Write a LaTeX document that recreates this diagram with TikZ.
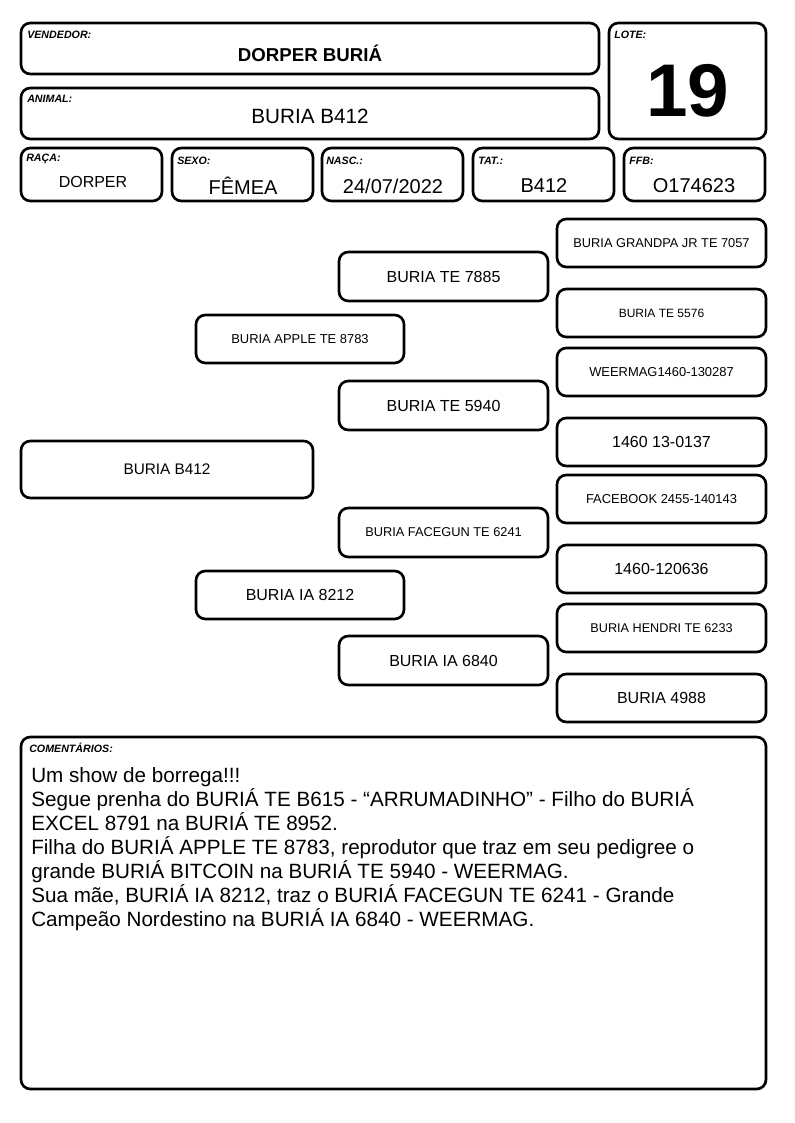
\documentclass[tikz,border=0pt]{standalone}
\usepackage{fontspec}
\setmainfont{Liberation Sans}
\newcommand{\fsz}[1]{\fontsize{#1}{#1}\selectfont}
\tikzset{
  box/.style={draw, line width=2pt, rounded corners=7pt},
  lbl/.style={anchor=west, inner sep=0pt, font=\fsz{8}\bfseries\itshape},
}

\begin{document}
\begin{tikzpicture}[x=0.75pt, y=-0.75pt]
    \useasboundingbox (0,0) rectangle (794,1123);

%vendedor
    \draw[box] (21,23) rectangle (599,74);
    \node[lbl] (vendlbl) at (27,35) {VENDEDOR:};
    \node[font=\fsz{14}\bfseries] (vend) at (310,53) {DORPER BURIÁ};
%animal
    \draw[box] (21,88) rectangle (599,139);
    \node[lbl] (animlbl) at (27,99) {ANIMAL:};
    \node[font=\fsz{15.5}] (anim) at (310,116) {BURIA B412};
%lote
    \draw[box] (609,23) rectangle (766,139);
    \node[lbl] (lotelbl) at (614,35) {LOTE:};
    \node[font=\fsz{56}\bfseries] (lote) at (688,91) {19};

%dados
    \draw[box] (21,148) rectangle (162,201);
    \foreach \x in {172,322,473,624} {
        \draw[box] (\x,148) rectangle (\x+141,201);
    }
    \node[lbl] (racalbl) at (26,159) {RAÇA:};
    \node[font=\fsz{12}] (raca) at (93,182) {DORPER};
    \node[lbl] (sexolbl) at (177,161) {SEXO:};
    \node[font=\fsz{15}] (sexo) at (243,186) {FÊMEA};
    \node[lbl] (nasclbl) at (326,161) {NASC.:};
    \node[font=\fsz{15}] (nasc) at (393,186) {24/07/2022};
    \node[lbl] (tatlbl) at (478,161) {TAT.:};
    \node[font=\fsz{15}] (tat) at (544,186) {B412};
    \node[lbl] (ffblbl) at (629,161) {FFB:};
    \node[font=\fsz{15}] (ffb) at (694,186) {O174623};

%animal
    \draw[box] (21,441) rectangle (313,498);
    \node[font=\fsz{11.5}] (pai0) at (167,469.5) {BURIA B412};
%pais
    \foreach \y/\t/\s [count=\i] in {315/BURIA APPLE TE 8783/9.7, 571/BURIA IA 8212/12} {
        \draw[box] (196,\y) rectangle (404,\y+48);
        \node[font=\fsz{\s}] (pai\i) at (300,\y+24) {\t};
    }
%avos
    \foreach \y/\t/\s [count=\i] in {252/BURIA TE 7885/12, 381/BURIA TE 5940/12,
        508/BURIA FACEGUN TE 6241/9.6, 636/BURIA IA 6840/12} {
        \draw[box] (339,\y) rectangle (548,\y+49);
        \node[font=\fsz{\s}] (avo\i) at (443.5,\y+24.5) {\t};
    }
%bisavos
    \foreach \y/\t/\s [count=\i] in {219/BURIA GRANDPA JR TE 7057/9.6, 289/BURIA TE 5576/9,
        348/WEERMAG1460-130287/9.7, 418/1460 13-0137/12, 475/FACEBOOK 2455-140143/9.7,
        545/1460-120636/12, 604/BURIA HENDRI TE 6233/9.5, 674/BURIA 4988/12} {
        \draw[box] (557,\y) rectangle (766,\y+48);
        \node[font=\fsz{\s}] (bis\i) at (661.5,\y+24) {\t};
    }

%comentarios
    \draw[box] (21,737) rectangle (766,1089);
    \node[lbl] (comlbl) at (29,748) {COMENTÁRIOS:};
    \foreach \t [count=\i] in {{Um show de borrega!!!},
        {Segue prenha do BURIÁ TE B615 - “ARRUMADINHO” - Filho do BURIÁ},
        {EXCEL 8791 na BURIÁ TE 8952.},
        {Filha do BURIÁ APPLE TE 8783, reprodutor que traz em seu pedigree o},
        {grande BURIÁ BITCOIN na BURIÁ TE 5940 - WEERMAG.},
        {Sua mãe, BURIÁ IA 8212, traz o BURIÁ FACEGUN TE 6241 - Grande},
        {Campeão Nordestino na BURIÁ IA 6840 - WEERMAG.}} {
        \node[anchor=base west, inner sep=0pt, font=\fsz{15.5}] (com\i) at (31,{782+24*(\i-1)}) {\t};
    }

\end{tikzpicture}
\end{document}
